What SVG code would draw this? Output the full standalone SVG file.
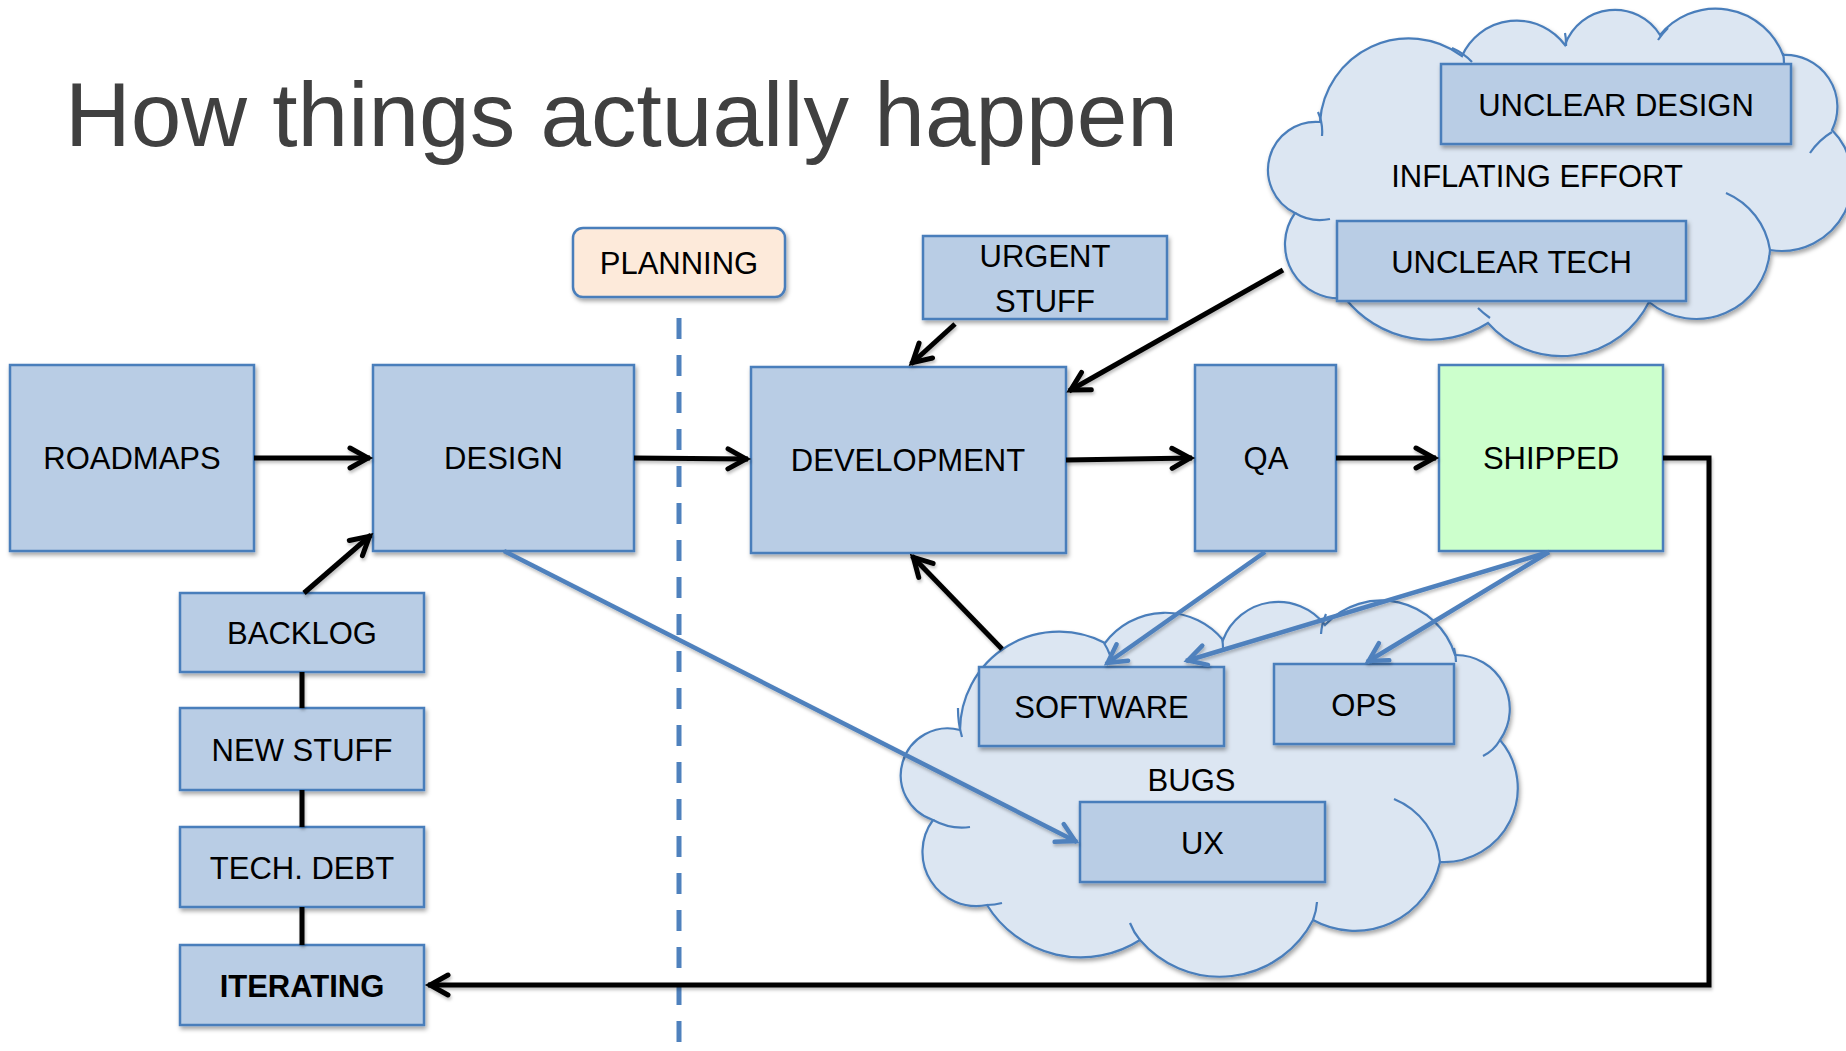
<svg xmlns="http://www.w3.org/2000/svg" width="1846" height="1051" viewBox="0 0 1846 1051">
<defs>
<style>
.box{fill:#b9cde5;stroke:#4a7ebb;stroke-width:2.5}
.ship{fill:#ccffcc;stroke:#4a7ebb;stroke-width:2.5}
.plan{fill:#fdeada;stroke:#4a7ebb;stroke-width:2.5}
.cloud{fill:#dce6f2;stroke:#4a7ebb;stroke-width:2.2}
.inner{fill:none;stroke:#4a7ebb;stroke-width:2.2}
.lbl{font-family:"Liberation Sans",Arial,sans-serif;font-size:31px;fill:#000;text-anchor:middle}
.bold{font-weight:bold}
.blk{fill:none;stroke:#000;stroke-width:5}
.blu{fill:none;stroke:#4f81bd;stroke-width:4.5}
</style>
<filter id="sh" x="-10%" y="-10%" width="130%" height="130%">
<feDropShadow dx="1.5" dy="3" stdDeviation="2" flood-color="#000" flood-opacity="0.35"/>
</filter>
<filter id="lsh" x="-10%" y="-10%" width="130%" height="130%">
<feDropShadow dx="1" dy="2.5" stdDeviation="1.5" flood-color="#000" flood-opacity="0.25"/>
</filter>
<marker id="ab" viewBox="0 0 26 24" refX="24" refY="12" markerWidth="26" markerHeight="24" markerUnits="userSpaceOnUse" orient="auto" overflow="visible">
<path d="M4,2 L22,12 L4,22" fill="none" stroke="#000" stroke-width="5" stroke-linecap="round"/>
</marker>
<marker id="au" viewBox="0 0 26 24" refX="24" refY="12" markerWidth="26" markerHeight="24" markerUnits="userSpaceOnUse" orient="auto" overflow="visible">
<path d="M4,2 L22,12 L4,22" fill="none" stroke="#4f81bd" stroke-width="4.5" stroke-linecap="round"/>
</marker>
</defs>
<rect width="1846" height="1051" fill="#fff"/>

<text x="65" y="146" font-family="'Liberation Sans',Arial,sans-serif" font-size="91" fill="#404040">How things actually happen</text>

<g id="planning-divider">
<line x1="679" y1="318" x2="679" y2="1051" stroke="#4f81bd" stroke-width="5" stroke-dasharray="21 16"/>
</g>

<g id="cloud-inflating-effort">
<path class="cloud" filter="url(#sh)" d="M1320,122 A89,89 0 0 1 1462,56 A60,60 0 0 1 1565,45 A53,53 0 0 1 1660,35 A72,72 0 0 1 1783,55 A52,52 0 0 1 1832,130 A71,71 0 0 1 1770,250 A74,74 0 0 1 1649,302 A98,98 0 0 1 1488,323 A108,108 0 0 1 1345,298 A54,54 0 0 1 1295,213 A48,48 0 0 1 1320,122 Z"/>
<path class="inner" d="M1318,112 A48,48 0 0 1 1322,136 M1452,48 A60,60 0 0 1 1472,62 M1565,33 A53,53 0 0 1 1566,46 M1658,40 A72,72 0 0 1 1668,28 M1783,53 A52,52 0 0 1 1784,63 M1810,153 A71,71 0 0 1 1832,132 M1726,193 A74,74 0 0 1 1770,250 M1478,308 A98,98 0 0 0 1490,318 M1295,213 A48,48 0 0 0 1330,219"/>
<text class="lbl" x="1537" y="187">INFLATING EFFORT</text>
</g>

<g id="cloud-bugs">
<path class="cloud" filter="url(#sh)" d="M960,730 A99,99 0 0 1 1105,643 A75,75 0 0 1 1223,640 A59,59 0 0 1 1325,625 A77,77 0 0 1 1455,655 A54,54 0 0 1 1500,740 A74,74 0 0 1 1440,862 A87,87 0 0 1 1313,920 A105,105 0 0 1 1140,940 A110,110 0 0 1 987,905 A54,54 0 0 1 933,820 A47,47 0 0 1 960,730 Z"/>
<path class="inner" d="M958,708 A99,99 0 0 0 962,737 M1104,643 A60,60 0 0 1 1110,655 M1222,638 A60,60 0 0 1 1223,652 M1326,614 A60,60 0 0 0 1321,634 M1454,648 A60,60 0 0 1 1456,662 M1483,756 A40,40 0 0 0 1500,740 M1394,799 A74,74 0 0 1 1440,862 M1317,902 A60,60 0 0 1 1313,920 M1130,923 A60,60 0 0 0 1140,940 M987,905 A60,60 0 0 0 1002,903 M933,820 A60,60 0 0 0 970,827"/>
<text class="lbl" x="1191.5" y="791">BUGS</text>
</g>

<g id="roadmaps"><rect class="box" filter="url(#sh)" x="10" y="365" width="244" height="186"/><text class="lbl" x="132" y="469">ROADMAPS</text></g>
<g id="design"><rect class="box" filter="url(#sh)" x="373" y="365" width="261" height="186"/><text class="lbl" x="503.5" y="469">DESIGN</text></g>
<g id="planning"><rect class="plan" filter="url(#sh)" x="573" y="228" width="212" height="69" rx="10"/><text class="lbl" x="679" y="274">PLANNING</text></g>
<g id="urgent-stuff"><rect class="box" filter="url(#sh)" x="923" y="236" width="244" height="83"/><text class="lbl" x="1045" y="267">URGENT</text><text class="lbl" x="1045" y="312">STUFF</text></g>
<g id="development"><rect class="box" filter="url(#sh)" x="751" y="367" width="315" height="186"/><text class="lbl" x="908" y="471">DEVELOPMENT</text></g>
<g id="qa"><rect class="box" filter="url(#sh)" x="1195" y="365" width="141" height="186"/><text class="lbl" x="1266" y="469">QA</text></g>
<g id="shipped"><rect class="ship" filter="url(#sh)" x="1439" y="365" width="224" height="186"/><text class="lbl" x="1551" y="469">SHIPPED</text></g>
<g id="unclear-design"><rect class="box" filter="url(#sh)" x="1441" y="64" width="350" height="80"/><text class="lbl" x="1616" y="116">UNCLEAR DESIGN</text></g>
<g id="unclear-tech"><rect class="box" filter="url(#sh)" x="1337" y="221" width="349" height="80"/><text class="lbl" x="1511.5" y="273">UNCLEAR TECH</text></g>
<g id="backlog"><rect class="box" filter="url(#sh)" x="180" y="593" width="244" height="79"/><text class="lbl" x="302" y="644">BACKLOG</text></g>
<g id="new-stuff"><rect class="box" filter="url(#sh)" x="180" y="708" width="244" height="82"/><text class="lbl" x="302" y="761">NEW STUFF</text></g>
<g id="tech-debt"><rect class="box" filter="url(#sh)" x="180" y="827" width="244" height="80"/><text class="lbl" x="302" y="879">TECH. DEBT</text></g>
<g id="iterating"><rect class="box" filter="url(#sh)" x="180" y="945" width="244" height="80"/><text class="lbl bold" x="302" y="997">ITERATING</text></g>
<g id="software"><rect class="box" filter="url(#sh)" x="979" y="667" width="245" height="79"/><text class="lbl" x="1101.5" y="718">SOFTWARE</text></g>
<g id="ops"><rect class="box" filter="url(#sh)" x="1274" y="664" width="180" height="80"/><text class="lbl" x="1364" y="716">OPS</text></g>
<g id="ux"><rect class="box" filter="url(#sh)" x="1080" y="802" width="245" height="80"/><text class="lbl" x="1202.5" y="854">UX</text></g>

<g id="connectors" filter="url(#lsh)">
<line class="blk" x1="254" y1="458" x2="370" y2="458" marker-end="url(#ab)"/>
<line class="blk" x1="634" y1="458" x2="748" y2="459" marker-end="url(#ab)"/>
<line class="blk" x1="1066" y1="460" x2="1192" y2="458" marker-end="url(#ab)"/>
<line class="blk" x1="1336" y1="458" x2="1436" y2="458" marker-end="url(#ab)"/>
<polyline class="blk" points="1663,458 1709,458 1709,985 428,985" marker-end="url(#ab)"/>
<line class="blk" x1="304" y1="593" x2="371" y2="535" marker-end="url(#ab)"/>
<line class="blk" x1="302" y1="672" x2="302" y2="708"/>
<line class="blk" x1="302" y1="790" x2="302" y2="827"/>
<line class="blk" x1="302" y1="907" x2="302" y2="945"/>
<line class="blk" x1="955" y1="324" x2="911" y2="364" marker-end="url(#ab)"/>
<line class="blk" x1="1283" y1="270" x2="1069" y2="391" marker-end="url(#ab)"/>
<line class="blk" x1="1002" y1="649" x2="912" y2="556" marker-end="url(#ab)"/>
<line class="blu" x1="504" y1="551" x2="1077" y2="842" marker-end="url(#au)"/>
<line class="blu" x1="1265" y1="552" x2="1106" y2="664" marker-end="url(#au)"/>
<line class="blu" x1="1549" y1="552" x2="1186" y2="661" marker-end="url(#au)"/>
<line class="blu" x1="1549" y1="552" x2="1367" y2="662" marker-end="url(#au)"/>
</g>
</svg>
